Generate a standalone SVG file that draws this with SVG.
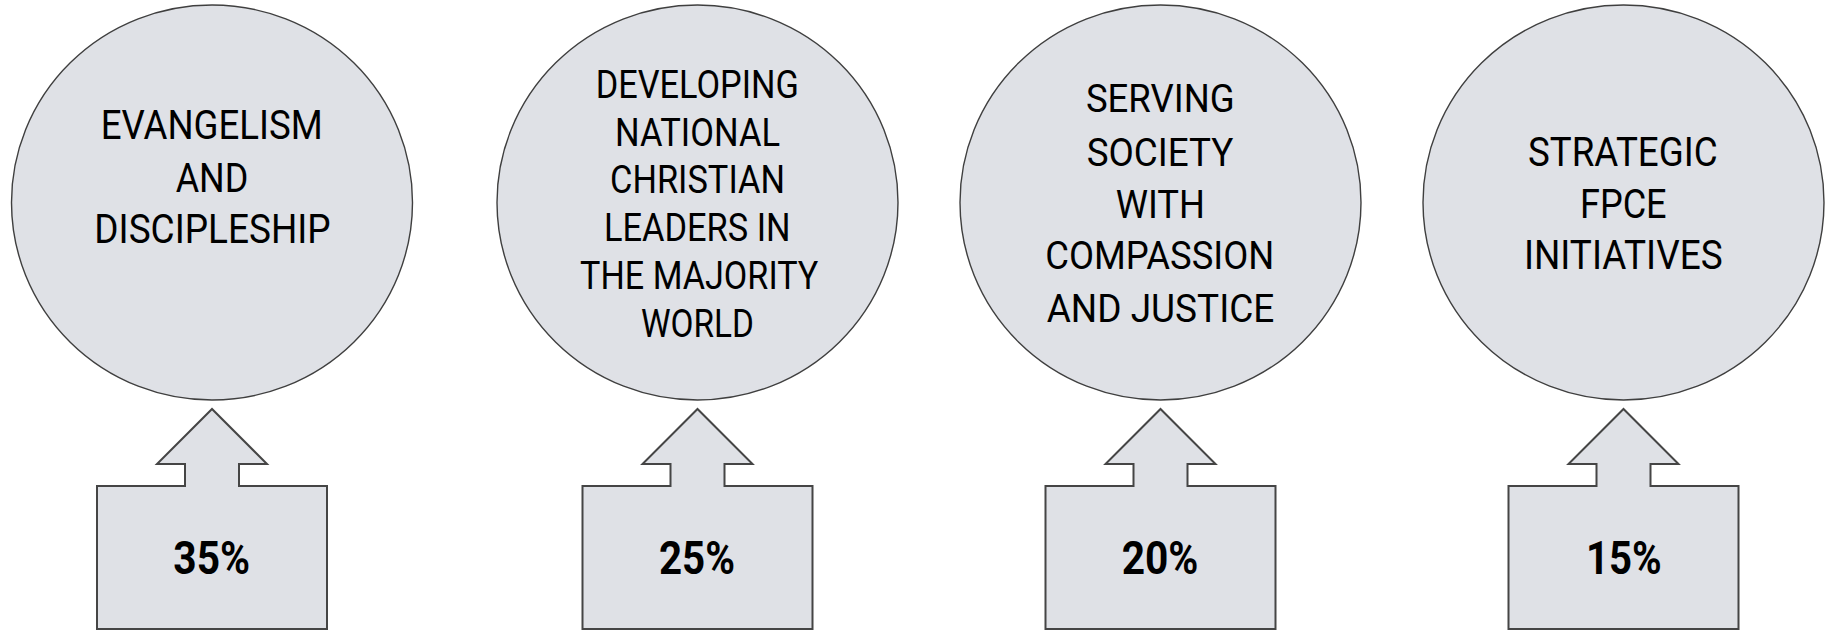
<svg xmlns="http://www.w3.org/2000/svg" width="1830" height="630" viewBox="0 0 1830 630">
<style>
.bg{fill:#ffffff}
.circ{fill:#dfe1e6;stroke:#3f3f3f;stroke-width:1.4}
.callout{fill:#dfe1e6;stroke:#454545;stroke-width:2}
.lbl{font-family:Roboto,"Liberation Sans",sans-serif;font-size:41px;fill:#000;text-anchor:middle}
.lbl2{font-family:Roboto,"Liberation Sans",sans-serif;font-size:39px;fill:#000;text-anchor:middle}
.pct{font-family:Roboto,"Liberation Sans",sans-serif;font-size:47px;font-weight:bold;fill:#000;text-anchor:middle}
</style>
<rect class="bg" x="0" y="0" width="1830" height="630"/>

<g id="circle-evangelism">
<ellipse class="circ" cx="212" cy="202.5" rx="200.5" ry="197.5"/>
<text class="lbl" x="211.7" y="139.3" textLength="222" lengthAdjust="spacingAndGlyphs">EVANGELISM</text>
<text class="lbl" x="212" y="191.7" textLength="72.7" lengthAdjust="spacingAndGlyphs">AND</text>
<text class="lbl" x="212.5" y="243.3" textLength="236.3" lengthAdjust="spacingAndGlyphs">DISCIPLESHIP</text>
</g>

<g id="circle-developing">
<ellipse class="circ" cx="697.5" cy="202.5" rx="200.5" ry="197.5"/>
<text class="lbl2" x="697.3" y="97.7" textLength="203.3" lengthAdjust="spacingAndGlyphs">DEVELOPING</text>
<text class="lbl2" x="697.5" y="145.7" textLength="165" lengthAdjust="spacingAndGlyphs">NATIONAL</text>
<text class="lbl2" x="697.5" y="193.3" textLength="175" lengthAdjust="spacingAndGlyphs">CHRISTIAN</text>
<text class="lbl2" x="697.3" y="241" textLength="186.7" lengthAdjust="spacingAndGlyphs">LEADERS IN</text>
<text class="lbl2" x="699.2" y="289" textLength="238.3" lengthAdjust="spacingAndGlyphs">THE MAJORITY</text>
<text class="lbl2" x="697.5" y="336.7" textLength="113" lengthAdjust="spacingAndGlyphs">WORLD</text>
</g>

<g id="circle-serving">
<ellipse class="circ" cx="1160.5" cy="202.5" rx="200.5" ry="197.5"/>
<text class="lbl2" x="1160.3" y="112.3" textLength="148.7" lengthAdjust="spacingAndGlyphs">SERVING</text>
<text class="lbl2" x="1160" y="165.7" textLength="146.7" lengthAdjust="spacingAndGlyphs">SOCIETY</text>
<text class="lbl2" x="1160.3" y="217.7" textLength="89.3" lengthAdjust="spacingAndGlyphs">WITH</text>
<text class="lbl2" x="1159.8" y="269.3" textLength="229" lengthAdjust="spacingAndGlyphs">COMPASSION</text>
<text class="lbl2" x="1160.5" y="321.7" textLength="227.7" lengthAdjust="spacingAndGlyphs">AND JUSTICE</text>
</g>

<g id="circle-strategic">
<ellipse class="circ" cx="1623.5" cy="202.5" rx="200.5" ry="197.5"/>
<text class="lbl" x="1622.8" y="165.7" textLength="189.7" lengthAdjust="spacingAndGlyphs">STRATEGIC</text>
<text class="lbl" x="1623.3" y="217.7" textLength="86.7" lengthAdjust="spacingAndGlyphs">FPCE</text>
<text class="lbl" x="1623.3" y="269.3" textLength="198.7" lengthAdjust="spacingAndGlyphs">INITIATIVES</text>
</g>

<g id="callout-35">
<path class="callout" d="M97,629 L97,486 L185,486 L185,464 L157,464 L212,409 L267,464 L239,464 L239,486 L327,486 L327,629 Z"/>
<text class="pct" x="211.7" y="574.3" textLength="76.7" lengthAdjust="spacingAndGlyphs">35%</text>
</g>

<g id="callout-25">
<path class="callout" d="M582.5,629 L582.5,486 L670.5,486 L670.5,464 L642.5,464 L697.5,409 L752.5,464 L724.5,464 L724.5,486 L812.5,486 L812.5,629 Z"/>
<text class="pct" x="697" y="574.3" textLength="76" lengthAdjust="spacingAndGlyphs">25%</text>
</g>

<g id="callout-20">
<path class="callout" d="M1045.5,629 L1045.5,486 L1133.5,486 L1133.5,464 L1105.5,464 L1160.5,409 L1215.5,464 L1187.5,464 L1187.5,486 L1275.5,486 L1275.5,629 Z"/>
<text class="pct" x="1160" y="574.3" textLength="76.7" lengthAdjust="spacingAndGlyphs">20%</text>
</g>

<g id="callout-15">
<path class="callout" d="M1508.5,629 L1508.5,486 L1596.5,486 L1596.5,464 L1568.5,464 L1623.5,409 L1678.5,464 L1650.5,464 L1650.5,486 L1738.5,486 L1738.5,629 Z"/>
<text class="pct" x="1623.8" y="574.3" textLength="75.7" lengthAdjust="spacingAndGlyphs">15%</text>
</g>
</svg>
